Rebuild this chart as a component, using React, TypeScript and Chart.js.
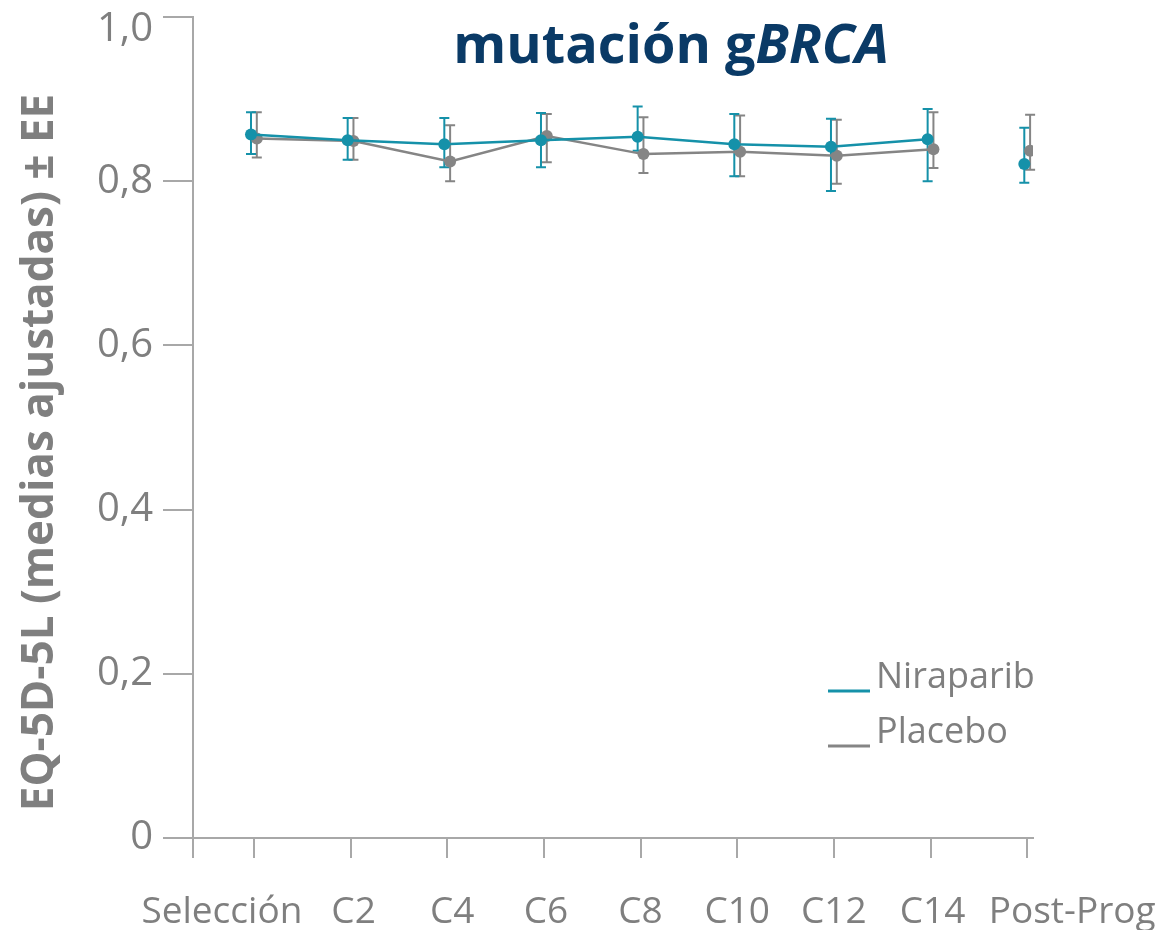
import React, { useEffect, useRef } from 'react';
import { Chart, registerables } from 'chart.js';

Chart.register(...registerables);

const categories = ['Selección', 'C2', 'C4', 'C6', 'C8', 'C10', 'C12', 'C14', 'Post-Prog'];
const niraparibMean = [0.857, 0.850, 0.845, 0.850, 0.854, 0.845, 0.842, 0.851, 0.821];
const niraparibLow = [0.833, 0.826, 0.817, 0.817, 0.837, 0.806, 0.788, 0.800, 0.798];
const niraparibHigh = [0.884, 0.877, 0.877, 0.883, 0.891, 0.882, 0.876, 0.888, 0.865];
const placeboMean = [0.852, 0.849, 0.824, 0.855, 0.833, 0.836, 0.831, 0.839, 0.837];
const placeboLow = [0.829, 0.826, 0.800, 0.823, 0.810, 0.806, 0.797, 0.816, 0.814];
const placeboHigh = [0.884, 0.877, 0.868, 0.882, 0.878, 0.880, 0.875, 0.884, 0.881];
const yTicks = [0, 0.2, 0.4, 0.6, 0.8, 1.0];
const yTickLabels = ['0', '0,2', '0,4', '0,6', '0,8', '1,0'];
const seriesNames = ['Niraparib', 'Placebo'];
const yTitle = 'EQ-5D-5L (medias ajustadas) ± EE';

const TEAL = '#1591a9';
const GREY = '#858585';
const AXIS = '#a8a8a8';
const TEXT = '#7f7f7f';
const FONT = '"Open Sans", Lato, sans-serif';
const X_MIN = -0.63;
const X_MAX = 8.06;

const errorBarPlugin = {
  id: 'errorBars',
  beforeDatasetsDraw(chart: any) {
    const { ctx, scales } = chart;
    const y = scales.y;
    for (let d = chart.data.datasets.length - 1; d >= 0; d--) {
      const ds = chart.data.datasets[d];
      const meta = chart.getDatasetMeta(d);
      ctx.save();
      ctx.strokeStyle = ds.borderColor;
      ctx.lineWidth = 2;
      meta.data.forEach((pt: any, i: number) => {
        const px = pt.x;
        const yl = y.getPixelForValue(ds.errLow[i]);
        const yh = y.getPixelForValue(ds.errHigh[i]);
        ctx.beginPath();
        ctx.moveTo(px, yl);
        ctx.lineTo(px, yh);
        ctx.moveTo(px - 5, yl);
        ctx.lineTo(px + 5, yl);
        ctx.moveTo(px - 5, yh);
        ctx.lineTo(px + 5, yh);
        ctx.stroke();
      });
      ctx.restore();
    }
  },
};

// legend, tick labels and rotated y title drawn as canvas text
const textPlugin = {
  id: 'textLayer',
  afterDraw(chart: any, _args: any, opts: any) {
    const { ctx, scales, chartArea } = chart;
    const x = scales.x;
    const y = scales.y;
    ctx.save();
    // legend
    chart.data.datasets.forEach((ds: any, i: number) => {
      const base = opts.legendY + i * opts.legendRow;
      ctx.strokeStyle = ds.borderColor;
      ctx.lineWidth = 3;
      ctx.beginPath();
      ctx.moveTo(opts.legendX, base + 3);
      ctx.lineTo(opts.legendX + 42, base + 3);
      ctx.stroke();
      ctx.fillStyle = TEXT;
      ctx.font = `36px ${FONT}`;
      ctx.textBaseline = 'alphabetic';
      ctx.textAlign = 'left';
      ctx.fillText(ds.label, opts.legendX + 48, base);
    });
    // x labels
    ctx.font = `37px ${FONT}`;
    ctx.fillStyle = TEXT;
    ctx.textAlign = 'center';
    ctx.textBaseline = 'alphabetic';
    categories.forEach((c, i) => {
      const shift = opts.labelShift[i] || 0;
      ctx.fillText(c, x.getPixelForValue(i) + shift, opts.labelBaseline);
    });
    // y labels
    ctx.font = `40px ${FONT}`;
    ctx.textAlign = 'right';
    ctx.textBaseline = 'middle';
    yTicks.forEach((v, i) => {
      const shift = i === yTicks.length - 1 ? opts.topLabelShift : 0;
      ctx.fillText(yTickLabels[i], chartArea.left - 40, y.getPixelForValue(v) + shift);
    });
    // y title
    ctx.textBaseline = 'alphabetic';
    ctx.translate(opts.yTitleX, (chartArea.top + chartArea.bottom) / 2 + opts.yTitleShift);
    ctx.rotate(-Math.PI / 2);
    ctx.font = `bold 44px ${FONT}`;
    ctx.textAlign = 'center';
    ctx.fillText(yTitle, 0, 0);
    ctx.restore();
  },
};

export default function App() {
  const canvasRef = useRef<HTMLCanvasElement | null>(null);

  useEffect(() => {
    const canvas = canvasRef.current;
    if (!canvas) return;
    const hideLast = (ctx: any) =>
      ctx.p1DataIndex === categories.length - 1 ? 'rgba(0,0,0,0)' : undefined;
    const chart = new Chart(canvas, {
      type: 'line',
      data: {
        datasets: [
          {
            label: seriesNames[0],
            data: categories.map((_, i) => ({ x: i - 0.03, y: niraparibMean[i] })),
            errLow: niraparibLow,
            errHigh: niraparibHigh,
            borderColor: TEAL,
            backgroundColor: TEAL,
            borderWidth: 2.5,
            pointRadius: 6,
            pointBorderWidth: 0,
            segment: { borderColor: hideLast },
          } as any,
          {
            label: seriesNames[1],
            data: categories.map((_, i) => ({ x: i + 0.03, y: placeboMean[i] })),
            errLow: placeboLow,
            errHigh: placeboHigh,
            borderColor: GREY,
            backgroundColor: GREY,
            borderWidth: 2.5,
            pointRadius: 6,
            pointBorderWidth: 0,
            segment: { borderColor: hideLast },
          } as any,
        ],
      },
      options: {
        responsive: false,
        animation: false,
        layout: { padding: { top: 17, right: 127, left: 0, bottom: 0 } },
        plugins: {
          legend: { display: false },
          tooltip: { enabled: false },
          title: { display: false },
          textLayer: {
            legendX: 828,
            legendY: 688,
            legendRow: 55,
            labelShift: [-32, 3, 5, 2, 0, 0, 0, 2, 45],
            labelBaseline: 923,
            topLabelShift: 13,
            yTitleX: 53,
            yTitleShift: 25,
          },
        } as any,
        scales: {
          x: {
            type: 'linear',
            min: X_MIN,
            max: X_MAX,
            afterBuildTicks: (s: any) => {
              s.ticks = [{ value: X_MIN }, ...categories.map((_, i) => ({ value: i }))];
            },
            afterFit: (s: any) => {
              s.height = 92;
            },
            ticks: {
              autoSkip: false,
              maxRotation: 0,
              font: { family: FONT, size: 36 },
              callback: () => '',
            },
            grid: { drawOnChartArea: false, drawTicks: true, tickLength: 20, color: AXIS, lineWidth: 2 },
            border: { color: AXIS, width: 2 },
          },
          y: {
            min: 0,
            max: 1,
            afterBuildTicks: (s: any) => {
              s.ticks = yTicks.map((v) => ({ value: v }));
            },
            afterFit: (s: any) => {
              s.width = 193;
            },
            ticks: {
              padding: 10,
              font: { family: FONT, size: 40, lineHeight: 0.1 },
              callback: () => '',
            },
            grid: { drawOnChartArea: false, drawTicks: true, tickLength: 30, color: AXIS, lineWidth: 2 },
            border: { color: AXIS, width: 2 },
          },
        },
      },
      plugins: [errorBarPlugin, textPlugin],
    });
    return () => chart.destroy();
  }, []);

  return (
    <div style={{ position: 'absolute', left: 0, top: 0, width: 1160, height: 930, background: '#fff' }}>
      <div
        style={{
          position: 'absolute',
          left: 671,
          top: 15,
          transform: 'translateX(-50%)',
          whiteSpace: 'nowrap',
          fontFamily: FONT,
          fontWeight: 'bold',
          fontSize: 54,
          lineHeight: '54px',
          color: '#0a3a66',
        }}
      >
        mutación g<i>BRCA</i>
      </div>
      <canvas ref={canvasRef} width={1160} height={930} style={{ display: 'block', width: 1160, height: 930 }} />
    </div>
  );
}
